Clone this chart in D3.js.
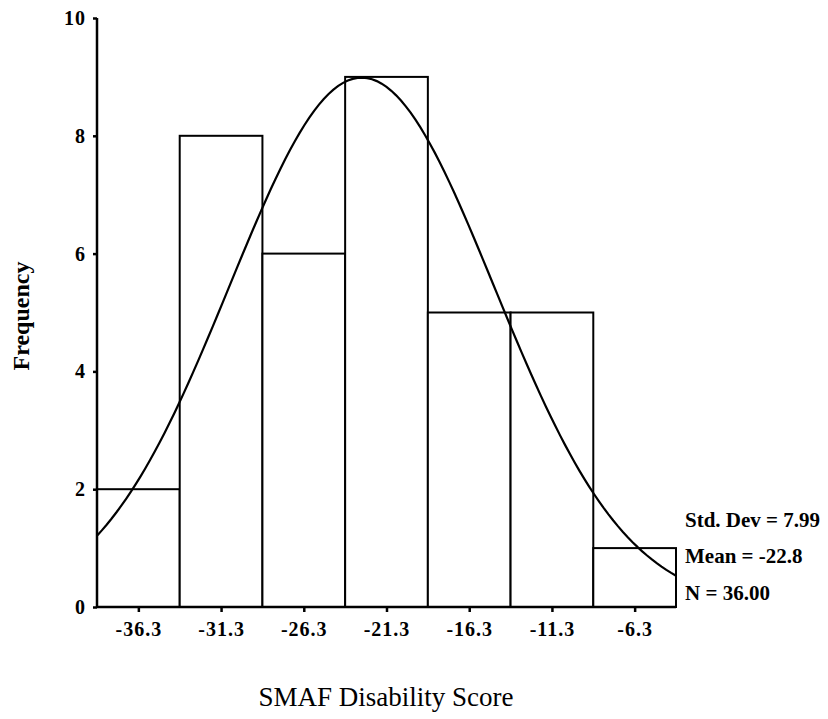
<!DOCTYPE html>
<html>
<head>
<meta charset="utf-8">
<script src="https://cdn.jsdelivr.net/npm/d3@7"></script>
<style>
  html, body { margin: 0; padding: 0; background: #fff; }
  svg { display: block; }
  svg text { font-family: "Liberation Serif", "Times New Roman", Times, "DejaVu Serif", serif !important; fill: #000; }
</style>
</head>
<body>
<svg id="chart" width="828" height="719"></svg>
<script>
// ---- Data ----
const binStarts = [-38.8, -33.8, -28.8, -23.8, -18.8, -13.8, -8.8];
const binWidth = 5;
const frequencies = [2, 8, 6, 9, 5, 5, 1];
const tickLabels = ["-36.3", "-31.3", "-26.3", "-21.3", "-16.3", "-11.3", "-6.3"];
const yTicks = [0, 2, 4, 6, 8, 10];
const statMean = -22.8;
const statSD = 7.99;
const statN = 36;
const statLabels = ["Std. Dev = 7.99", "Mean = -22.8", "N = 36.00"];

// ---- Layout ----
const svg = d3.select("#chart");
const plotLeft = 97, plotRight = 676, plotTop = 18, plotBottom = 607;

const x = d3.scaleLinear().domain([-38.8, -3.8]).range([plotLeft, plotRight]);
const y = d3.scaleLinear().domain([0, 10]).range([plotBottom, plotTop]);

// Bars
svg.append("g").selectAll("rect")
  .data(frequencies)
  .join("rect")
  .attr("x", (d, i) => x(binStarts[i]))
  .attr("y", d => y(d))
  .attr("width", (d, i) => x(binStarts[i] + binWidth) - x(binStarts[i]))
  .attr("height", d => y(0) - y(d))
  .attr("fill", "#fff")
  .attr("stroke", "#000")
  .attr("stroke-width", 2);

// Normal curve from the displayed statistics
const nPts = 120;
const curve = d3.range(nPts + 1).map(k => {
  const xv = -38.8 + (35 * k) / nPts;
  const z = (xv - statMean) / statSD;
  const yv = statN * binWidth / (statSD * Math.sqrt(2 * Math.PI)) * Math.exp(-0.5 * z * z);
  return [xv, yv];
});
svg.append("path")
  .datum(curve)
  .attr("d", d3.line().x(d => x(d[0])).y(d => y(d[1])).curve(d3.curveLinear))
  .attr("fill", "none")
  .attr("stroke", "#000")
  .attr("stroke-width", 2.2);

// Y axis
const yAxis = d3.axisLeft(y).tickValues(yTicks).tickSize(4).tickPadding(7).tickFormat(d3.format("d"));
const gy = svg.append("g").attr("transform", `translate(${plotLeft},0)`).call(yAxis);
gy.attr("font-family", null);
gy.select(".domain").attr("stroke-width", 2.5).attr("d", `M0,${plotTop}V${plotBottom}`);
gy.selectAll(".tick line").attr("stroke-width", 2.5);
gy.selectAll(".tick text")
  .style("font-weight", "bold")
  .style("font-size", "20px")
  .style("letter-spacing", "1px");

// X axis
const centers = binStarts.map(b => b + binWidth / 2);
const xAxis = d3.axisBottom(x).tickValues(centers).tickSize(5).tickPadding(10)
  .tickFormat((d, i) => tickLabels[i]);
const gx = svg.append("g").attr("transform", `translate(0,${plotBottom})`).call(xAxis);
gx.attr("font-family", null);
gx.select(".domain").attr("stroke-width", 2.5).attr("d", `M${plotLeft},0H${plotRight}`);
gx.selectAll(".tick line").attr("stroke-width", 2.5);
gx.selectAll(".tick text")
  .style("font-weight", "bold")
  .style("font-size", "20px")
  .style("letter-spacing", "1px");

// Axis titles
svg.append("text")
  .attr("transform", "translate(29,316) rotate(-90)")
  .attr("text-anchor", "middle")
  .style("font-size", "24px")
  .style("font-weight", "bold")
  .text("Frequency");

svg.append("text")
  .attr("x", 386).attr("y", 706)
  .attr("text-anchor", "middle")
  .style("font-size", "27px")
  .text("SMAF Disability Score");

// Stats text
const statY = [527, 563, 600];
svg.append("g").selectAll("text")
  .data(statLabels)
  .join("text")
  .attr("x", 685)
  .attr("y", (d, i) => statY[i])
  .style("font-size", "21px")
  .style("font-weight", "bold")
  .text(d => d);
</script>
</body>
</html>
